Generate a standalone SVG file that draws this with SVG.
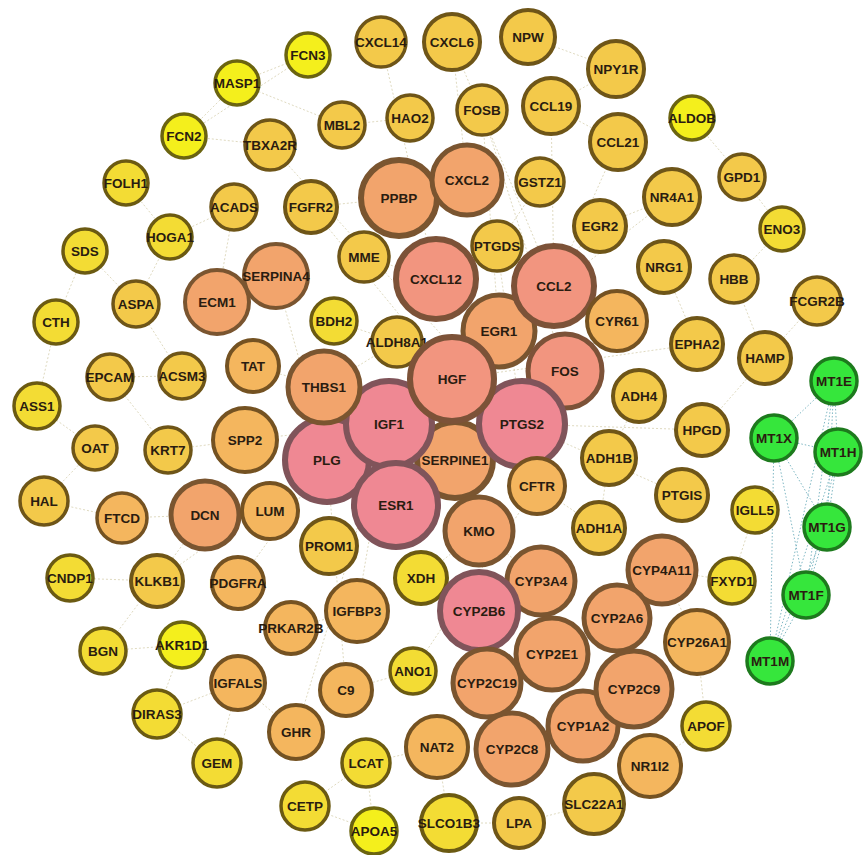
<svg xmlns="http://www.w3.org/2000/svg" width="866" height="855" viewBox="0 0 866 855">
<style>
text{font-family:"Liberation Sans",Arial,sans-serif;font-weight:bold;font-size:13.5px;text-anchor:middle;fill:#2a1c10}
circle{stroke-width:3.5}
.y1 circle{fill:#f4ef1c;stroke:#6b6410}
.y2 circle{fill:#f3dc34;stroke:#6b5a12}
.g3 circle{fill:#f3c94a;stroke:#6e5518}
.o4 circle{fill:#f4b65e;stroke:#745222}
.o5 circle{fill:#f2a46c;stroke:#7a5530}
.s6 circle{fill:#f2957f;stroke:#7c5238}
.p7 circle{fill:#ef8893;stroke:#80545a}
.gr circle{fill:#36e63c;stroke:#1d7a1d}
.m circle{stroke-width:4}
.l circle{stroke-width:5}
.xl circle{stroke-width:6}
#edges line{stroke:#d6cfae;stroke-width:0.9;stroke-dasharray:2 2;opacity:0.85}
#edges .mt{stroke:#7fb8c4;stroke-width:1;stroke-dasharray:1.5 2;opacity:1}
</style>
<rect width="866" height="855" fill="#ffffff"/>
<g id="edges">
<line x1="237" y1="83" x2="308" y2="55"/><line x1="237" y1="83" x2="184" y2="136"/><line x1="184" y1="136" x2="308" y2="55"/>
<line x1="342" y1="125" x2="237" y2="83"/><line x1="184" y1="136" x2="270" y2="145"/><line x1="126" y1="183" x2="170" y2="237"/>
<line x1="85" y1="251" x2="56" y2="322"/><line x1="56" y1="322" x2="37" y2="406"/><line x1="37" y1="406" x2="95" y2="448"/>
<line x1="95" y1="448" x2="44" y2="501"/><line x1="44" y1="501" x2="122" y2="518"/><line x1="85" y1="251" x2="136" y2="304"/>
<line x1="136" y1="304" x2="170" y2="237"/><line x1="136" y1="304" x2="182" y2="376"/><line x1="110" y1="377" x2="168" y2="450"/>
<line x1="110" y1="377" x2="182" y2="376"/><line x1="168" y1="450" x2="245" y2="440"/><line x1="234" y1="207" x2="170" y2="237"/>
<line x1="234" y1="207" x2="217" y2="302"/><line x1="270" y1="145" x2="522" y2="424"/><line x1="311" y1="207" x2="452" y2="379"/>
<line x1="311" y1="207" x2="399" y2="198"/><line x1="381" y1="42" x2="436" y2="279"/><line x1="452" y1="42" x2="467" y2="180"/>
<line x1="452" y1="42" x2="554" y2="286"/><line x1="528" y1="37" x2="616" y2="69"/><line x1="616" y1="69" x2="551" y2="106"/>
<line x1="551" y1="106" x2="618" y2="142"/><line x1="618" y1="142" x2="554" y2="286"/><line x1="551" y1="106" x2="554" y2="286"/>
<line x1="482" y1="110" x2="499" y2="331"/><line x1="482" y1="110" x2="565" y2="371"/><line x1="410" y1="118" x2="342" y2="125"/>
<line x1="540" y1="182" x2="497" y2="246"/><line x1="497" y1="246" x2="522" y2="424"/><line x1="672" y1="197" x2="600" y2="226"/>
<line x1="672" y1="197" x2="499" y2="331"/><line x1="600" y1="226" x2="499" y2="331"/><line x1="692" y1="118" x2="742" y2="177"/>
<line x1="742" y1="177" x2="782" y2="229"/><line x1="782" y1="229" x2="734" y2="279"/><line x1="734" y1="279" x2="765" y2="358"/>
<line x1="817" y1="301" x2="765" y2="358"/><line x1="765" y1="358" x2="702" y2="430"/><line x1="664" y1="267" x2="697" y2="344"/>
<line x1="697" y1="344" x2="452" y2="379"/><line x1="617" y1="321" x2="565" y2="371"/><line x1="639" y1="396" x2="609" y2="458"/>
<line x1="609" y1="458" x2="599" y2="528"/><line x1="702" y1="430" x2="522" y2="424"/><line x1="682" y1="495" x2="522" y2="424"/>
<line x1="755" y1="510" x2="732" y2="581"/><line x1="217" y1="302" x2="276" y2="276"/><line x1="276" y1="276" x2="327" y2="460"/>
<line x1="253" y1="366" x2="324" y2="387"/><line x1="245" y1="440" x2="389" y2="424"/><line x1="205" y1="515" x2="270" y2="511"/>
<line x1="205" y1="515" x2="103" y2="651"/><line x1="122" y1="518" x2="205" y2="515"/><line x1="157" y1="581" x2="327" y2="460"/>
<line x1="70" y1="578" x2="157" y2="581"/><line x1="238" y1="583" x2="327" y2="460"/><line x1="329" y1="546" x2="396" y2="505"/>
<line x1="103" y1="651" x2="182" y2="645"/><line x1="182" y1="645" x2="157" y2="714"/><line x1="157" y1="714" x2="217" y2="763"/>
<line x1="157" y1="714" x2="238" y2="683"/><line x1="238" y1="683" x2="217" y2="763"/><line x1="238" y1="683" x2="296" y2="732"/>
<line x1="296" y1="732" x2="389" y2="424"/><line x1="357" y1="611" x2="389" y2="424"/><line x1="291" y1="628" x2="357" y2="611"/>
<line x1="346" y1="690" x2="327" y2="460"/><line x1="346" y1="690" x2="413" y2="671"/><line x1="413" y1="671" x2="537" y2="486"/>
<line x1="421" y1="578" x2="479" y2="531"/><line x1="366" y1="763" x2="374" y2="831"/><line x1="305" y1="806" x2="374" y2="831"/>
<line x1="305" y1="806" x2="366" y2="763"/><line x1="366" y1="763" x2="437" y2="747"/><line x1="449" y1="823" x2="519" y2="823"/>
<line x1="449" y1="823" x2="437" y2="747"/><line x1="519" y1="823" x2="594" y2="804"/><line x1="594" y1="804" x2="650" y2="766"/>
<line x1="650" y1="766" x2="706" y2="726"/><line x1="706" y1="726" x2="697" y2="642"/><line x1="697" y1="642" x2="662" y2="570"/>
<line x1="662" y1="570" x2="732" y2="581"/><line x1="537" y1="486" x2="599" y2="528"/><line x1="479" y1="531" x2="541" y2="581"/>
<line x1="364" y1="257" x2="436" y2="279"/><line x1="334" y1="321" x2="397" y2="342"/><line x1="397" y1="342" x2="324" y2="387"/>
<line class="mt" x1="834" y1="381" x2="774" y2="438"/><line class="mt" x1="834" y1="381" x2="838" y2="452"/><line class="mt" x1="834" y1="381" x2="827" y2="527"/>
<line class="mt" x1="834" y1="381" x2="806" y2="595"/><line class="mt" x1="834" y1="381" x2="770" y2="661"/><line class="mt" x1="774" y1="438" x2="838" y2="452"/>
<line class="mt" x1="774" y1="438" x2="827" y2="527"/><line class="mt" x1="774" y1="438" x2="806" y2="595"/><line class="mt" x1="774" y1="438" x2="770" y2="661"/>
<line class="mt" x1="838" y1="452" x2="827" y2="527"/><line class="mt" x1="838" y1="452" x2="806" y2="595"/><line class="mt" x1="838" y1="452" x2="770" y2="661"/>
<line class="mt" x1="827" y1="527" x2="806" y2="595"/><line class="mt" x1="827" y1="527" x2="770" y2="661"/><line class="mt" x1="806" y1="595" x2="770" y2="661"/>
</g>
<g id="nodes">
<g id="n-FCN3" class="y1"><circle cx="308" cy="55" r="22"/><text x="308" y="60">FCN3</text></g>
<g id="n-MASP1" class="y1"><circle cx="237" cy="83" r="22"/><text x="237" y="88">MASP1</text></g>
<g id="n-FCN2" class="y1"><circle cx="184" cy="136" r="22"/><text x="184" y="141">FCN2</text></g>
<g id="n-FOLH1" class="y2"><circle cx="126" cy="183" r="22"/><text x="126" y="188">FOLH1</text></g>
<g id="n-CXCL14" class="g3"><circle cx="381" cy="42" r="25"/><text x="381" y="47">CXCL14</text></g>
<g id="n-CXCL6" class="g3 m"><circle cx="452" cy="42" r="28"/><text x="452" y="47">CXCL6</text></g>
<g id="n-NPW" class="g3 m"><circle cx="528" cy="37" r="27"/><text x="528" y="42">NPW</text></g>
<g id="n-NPY1R" class="g3 m"><circle cx="616" cy="69" r="28"/><text x="616" y="74">NPY1R</text></g>
<g id="n-TBXA2R" class="g3"><circle cx="270" cy="145" r="25"/><text x="270" y="150">TBXA2R</text></g>
<g id="n-MBL2" class="g3"><circle cx="342" cy="125" r="23"/><text x="342" y="130">MBL2</text></g>
<g id="n-HAO2" class="g3"><circle cx="410" cy="118" r="23"/><text x="410" y="123">HAO2</text></g>
<g id="n-FOSB" class="g3"><circle cx="482" cy="110" r="25"/><text x="482" y="115">FOSB</text></g>
<g id="n-CCL19" class="g3 m"><circle cx="551" cy="106" r="28"/><text x="551" y="111">CCL19</text></g>
<g id="n-ALDOB" class="y1"><circle cx="692" cy="118" r="22"/><text x="692" y="123">ALDOB</text></g>
<g id="n-CCL21" class="g3 m"><circle cx="618" cy="142" r="28"/><text x="618" y="147">CCL21</text></g>
<g id="n-GPD1" class="g3"><circle cx="742" cy="177" r="23"/><text x="742" y="182">GPD1</text></g>
<g id="n-ACADS" class="g3"><circle cx="234" cy="207" r="23"/><text x="234" y="212">ACADS</text></g>
<g id="n-FGFR2" class="g3 m"><circle cx="311" cy="207" r="26"/><text x="311" y="212">FGFR2</text></g>
<g id="n-PPBP" class="o5 xl"><circle cx="399" cy="198" r="38"/><text x="399" y="203">PPBP</text></g>
<g id="n-CXCL2" class="o5 l"><circle cx="467" cy="180" r="35"/><text x="467" y="185">CXCL2</text></g>
<g id="n-GSTZ1" class="g3"><circle cx="540" cy="182" r="24"/><text x="540" y="187">GSTZ1</text></g>
<g id="n-NR4A1" class="g3 m"><circle cx="672" cy="197" r="28"/><text x="672" y="202">NR4A1</text></g>
<g id="n-EGR2" class="g3 m"><circle cx="600" cy="226" r="26"/><text x="600" y="231">EGR2</text></g>
<g id="n-ENO3" class="y2"><circle cx="782" cy="229" r="22"/><text x="782" y="234">ENO3</text></g>
<g id="n-SDS" class="y2"><circle cx="85" cy="251" r="22"/><text x="85" y="256">SDS</text></g>
<g id="n-HOGA1" class="y2"><circle cx="170" cy="237" r="22"/><text x="170" y="242">HOGA1</text></g>
<g id="n-MME" class="g3"><circle cx="364" cy="257" r="25"/><text x="364" y="262">MME</text></g>
<g id="n-PTGDS" class="g3"><circle cx="497" cy="246" r="25"/><text x="497" y="251">PTGDS</text></g>
<g id="n-CXCL12" class="s6 xl"><circle cx="436" cy="279" r="40"/><text x="436" y="284">CXCL12</text></g>
<g id="n-NRG1" class="g3 m"><circle cx="664" cy="267" r="26"/><text x="664" y="272">NRG1</text></g>
<g id="n-HBB" class="g3"><circle cx="734" cy="279" r="24"/><text x="734" y="284">HBB</text></g>
<g id="n-FCGR2B" class="g3"><circle cx="817" cy="301" r="24"/><text x="817" y="306">FCGR2B</text></g>
<g id="n-SERPINA4" class="o5 m"><circle cx="276" cy="276" r="32"/><text x="276" y="281">SERPINA4</text></g>
<g id="n-ECM1" class="o5 m"><circle cx="217" cy="302" r="32"/><text x="217" y="307">ECM1</text></g>
<g id="n-ASPA" class="g3"><circle cx="136" cy="304" r="23"/><text x="136" y="309">ASPA</text></g>
<g id="n-CTH" class="y2"><circle cx="56" cy="322" r="22"/><text x="56" y="327">CTH</text></g>
<g id="n-BDH2" class="y2"><circle cx="334" cy="321" r="23"/><text x="334" y="326">BDH2</text></g>
<g id="n-ALDH8A1" class="g3"><circle cx="397" cy="342" r="25"/><text x="397" y="347">ALDH8A1</text></g>
<g id="n-EGR1" class="o5 l"><circle cx="499" cy="331" r="36"/><text x="499" y="336">EGR1</text></g>
<g id="n-CCL2" class="s6 xl"><circle cx="554" cy="286" r="40"/><text x="554" y="291">CCL2</text></g>
<g id="n-CYR61" class="o4 m"><circle cx="617" cy="321" r="30"/><text x="617" y="326">CYR61</text></g>
<g id="n-EPHA2" class="g3 m"><circle cx="697" cy="344" r="26"/><text x="697" y="349">EPHA2</text></g>
<g id="n-HAMP" class="g3 m"><circle cx="765" cy="358" r="26"/><text x="765" y="363">HAMP</text></g>
<g id="n-MT1E" class="gr"><circle cx="834" cy="381" r="23"/><text x="834" y="386">MT1E</text></g>
<g id="n-EPCAM" class="g3"><circle cx="110" cy="377" r="23"/><text x="110" y="382">EPCAM</text></g>
<g id="n-ACSM3" class="g3"><circle cx="182" cy="376" r="23"/><text x="182" y="381">ACSM3</text></g>
<g id="n-TAT" class="o4 m"><circle cx="253" cy="366" r="26"/><text x="253" y="371">TAT</text></g>
<g id="n-FOS" class="s6 l"><circle cx="565" cy="371" r="37"/><text x="565" y="376">FOS</text></g>
<g id="n-ADH4" class="g3 m"><circle cx="639" cy="396" r="26"/><text x="639" y="401">ADH4</text></g>
<g id="n-ASS1" class="y2"><circle cx="37" cy="406" r="23"/><text x="37" y="411">ASS1</text></g>
<g id="n-HPGD" class="g3 m"><circle cx="702" cy="430" r="26"/><text x="702" y="435">HPGD</text></g>
<g id="n-MT1X" class="gr"><circle cx="774" cy="438" r="23"/><text x="774" y="443">MT1X</text></g>
<g id="n-MT1H" class="gr"><circle cx="838" cy="452" r="23"/><text x="838" y="457">MT1H</text></g>
<g id="n-OAT" class="g3"><circle cx="95" cy="448" r="22"/><text x="95" y="453">OAT</text></g>
<g id="n-KRT7" class="g3"><circle cx="168" cy="450" r="23"/><text x="168" y="455">KRT7</text></g>
<g id="n-SPP2" class="o4 m"><circle cx="245" cy="440" r="32"/><text x="245" y="445">SPP2</text></g>
<g id="n-SERPINE1" class="o5 xl"><circle cx="455" cy="460" r="38"/><text x="455" y="465">SERPINE1</text></g>
<g id="n-PLG" class="p7 xl"><circle cx="327" cy="460" r="42"/><text x="327" y="465">PLG</text></g>
<g id="n-PTGS2" class="p7 xl"><circle cx="522" cy="424" r="43"/><text x="522" y="429">PTGS2</text></g>
<g id="n-IGF1" class="p7 xl"><circle cx="389" cy="424" r="43"/><text x="389" y="429">IGF1</text></g>
<g id="n-THBS1" class="o5 l"><circle cx="324" cy="387" r="36"/><text x="324" y="392">THBS1</text></g>
<g id="n-HGF" class="s6 xl"><circle cx="452" cy="379" r="42"/><text x="452" y="384">HGF</text></g>
<g id="n-ESR1" class="p7 xl"><circle cx="396" cy="505" r="42"/><text x="396" y="510">ESR1</text></g>
<g id="n-ADH1B" class="g3 m"><circle cx="609" cy="458" r="27"/><text x="609" y="463">ADH1B</text></g>
<g id="n-PTGIS" class="g3 m"><circle cx="682" cy="495" r="26"/><text x="682" y="500">PTGIS</text></g>
<g id="n-IGLL5" class="y2"><circle cx="755" cy="510" r="23"/><text x="755" y="515">IGLL5</text></g>
<g id="n-MT1G" class="gr"><circle cx="827" cy="527" r="23"/><text x="827" y="532">MT1G</text></g>
<g id="n-HAL" class="g3"><circle cx="44" cy="501" r="24"/><text x="44" y="506">HAL</text></g>
<g id="n-FTCD" class="o4"><circle cx="122" cy="518" r="25"/><text x="122" y="523">FTCD</text></g>
<g id="n-DCN" class="o5 l"><circle cx="205" cy="515" r="34"/><text x="205" y="520">DCN</text></g>
<g id="n-LUM" class="o4 m"><circle cx="270" cy="511" r="28"/><text x="270" y="516">LUM</text></g>
<g id="n-CFTR" class="o4 m"><circle cx="537" cy="486" r="28"/><text x="537" y="491">CFTR</text></g>
<g id="n-ADH1A" class="g3 m"><circle cx="599" cy="528" r="26"/><text x="599" y="533">ADH1A</text></g>
<g id="n-CNDP1" class="y2"><circle cx="70" cy="578" r="23"/><text x="70" y="583">CNDP1</text></g>
<g id="n-KLKB1" class="g3 m"><circle cx="157" cy="581" r="26"/><text x="157" y="586">KLKB1</text></g>
<g id="n-PDGFRA" class="o4 m"><circle cx="238" cy="583" r="26"/><text x="238" y="588">PDGFRA</text></g>
<g id="n-PROM1" class="g3 m"><circle cx="329" cy="546" r="28"/><text x="329" y="551">PROM1</text></g>
<g id="n-KMO" class="o5 l"><circle cx="479" cy="531" r="34"/><text x="479" y="536">KMO</text></g>
<g id="n-XDH" class="y2 m"><circle cx="421" cy="578" r="26"/><text x="421" y="583">XDH</text></g>
<g id="n-CYP3A4" class="o5 l"><circle cx="541" cy="581" r="34"/><text x="541" y="586">CYP3A4</text></g>
<g id="n-CYP4A11" class="o5 l"><circle cx="662" cy="570" r="34"/><text x="662" y="575">CYP4A11</text></g>
<g id="n-FXYD1" class="y2"><circle cx="732" cy="581" r="23"/><text x="732" y="586">FXYD1</text></g>
<g id="n-MT1F" class="gr"><circle cx="806" cy="595" r="23"/><text x="806" y="600">MT1F</text></g>
<g id="n-CYP2B6" class="p7 xl"><circle cx="479" cy="611" r="39"/><text x="479" y="616">CYP2B6</text></g>
<g id="n-CYP2A6" class="o5 l"><circle cx="617" cy="618" r="33"/><text x="617" y="623">CYP2A6</text></g>
<g id="n-CYP26A1" class="o4 m"><circle cx="697" cy="642" r="32"/><text x="697" y="647">CYP26A1</text></g>
<g id="n-MT1M" class="gr"><circle cx="770" cy="661" r="23"/><text x="770" y="666">MT1M</text></g>
<g id="n-BGN" class="y2"><circle cx="103" cy="651" r="23"/><text x="103" y="656">BGN</text></g>
<g id="n-AKR1D1" class="y1"><circle cx="182" cy="645" r="23"/><text x="182" y="650">AKR1D1</text></g>
<g id="n-PRKAR2B" class="o4 m"><circle cx="291" cy="628" r="26"/><text x="291" y="633">PRKAR2B</text></g>
<g id="n-IGFBP3" class="o4 m"><circle cx="357" cy="611" r="31"/><text x="357" y="616">IGFBP3</text></g>
<g id="n-CYP2E1" class="o5 l"><circle cx="552" cy="654" r="36"/><text x="552" y="659">CYP2E1</text></g>
<g id="n-IGFALS" class="o4 m"><circle cx="238" cy="683" r="27"/><text x="238" y="688">IGFALS</text></g>
<g id="n-ANO1" class="y2"><circle cx="413" cy="671" r="23"/><text x="413" y="676">ANO1</text></g>
<g id="n-C9" class="o4 m"><circle cx="346" cy="690" r="26"/><text x="346" y="695">C9</text></g>
<g id="n-CYP2C19" class="o5 l"><circle cx="487" cy="683" r="34"/><text x="487" y="688">CYP2C19</text></g>
<g id="n-CYP1A2" class="o5 l"><circle cx="583" cy="726" r="35"/><text x="583" y="731">CYP1A2</text></g>
<g id="n-CYP2C9" class="o5 l"><circle cx="634" cy="689" r="38"/><text x="634" y="694">CYP2C9</text></g>
<g id="n-DIRAS3" class="y2"><circle cx="157" cy="714" r="24"/><text x="157" y="719">DIRAS3</text></g>
<g id="n-GHR" class="o4 m"><circle cx="296" cy="732" r="27"/><text x="296" y="737">GHR</text></g>
<g id="n-NAT2" class="o4 m"><circle cx="437" cy="747" r="31"/><text x="437" y="752">NAT2</text></g>
<g id="n-CYP2C8" class="o5 l"><circle cx="512" cy="749" r="36"/><text x="512" y="754">CYP2C8</text></g>
<g id="n-APOF" class="y2"><circle cx="706" cy="726" r="24"/><text x="706" y="731">APOF</text></g>
<g id="n-GEM" class="y2"><circle cx="217" cy="763" r="24"/><text x="217" y="768">GEM</text></g>
<g id="n-LCAT" class="y2"><circle cx="366" cy="763" r="24"/><text x="366" y="768">LCAT</text></g>
<g id="n-NR1I2" class="o4 m"><circle cx="650" cy="766" r="31"/><text x="650" y="771">NR1I2</text></g>
<g id="n-CETP" class="y2"><circle cx="305" cy="806" r="24"/><text x="305" y="811">CETP</text></g>
<g id="n-APOA5" class="y1"><circle cx="374" cy="831" r="23"/><text x="374" y="836">APOA5</text></g>
<g id="n-SLCO1B3" class="y2 m"><circle cx="449" cy="823" r="28"/><text x="449" y="828">SLCO1B3</text></g>
<g id="n-LPA" class="g3 m"><circle cx="519" cy="823" r="25"/><text x="519" y="828">LPA</text></g>
<g id="n-SLC22A1" class="g3 m"><circle cx="594" cy="804" r="30"/><text x="594" y="809">SLC22A1</text></g>
</g>
</svg>
